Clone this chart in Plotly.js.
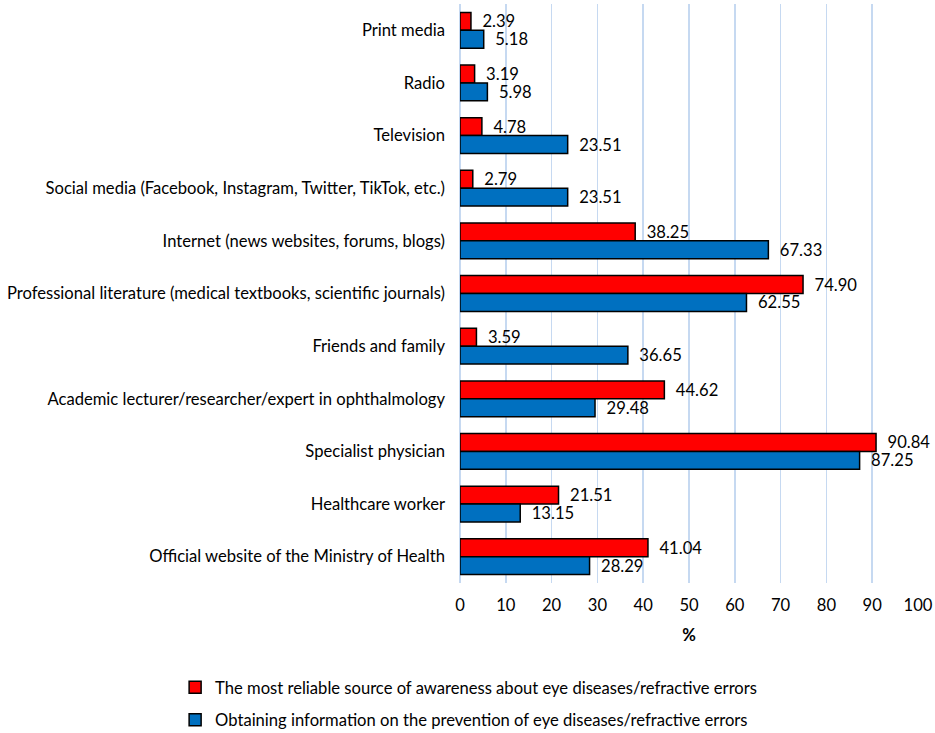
<!DOCTYPE html>
<html><head><meta charset="utf-8">
<script src="https://cdn.plot.ly/plotly-3.0.1.min.js"></script>
<style>body{margin:0;background:#fff}#chart{width:935px;height:733px}</style>
</head><body><div id="chart"></div>
<script>
const categories = [
  "Print media",
  "Radio",
  "Television",
  "Social media (Facebook, Instagram, Twitter, TikTok, etc.)",
  "Internet (news websites, forums, blogs)",
  "Professional literature (medical textbooks, scientific journals)",
  "Friends and family",
  "Academic lecturer/researcher/expert in ophthalmology",
  "Specialist physician",
  "Healthcare worker",
  "Official website of the Ministry of Health"
];
const reliableValues = [2.39, 3.19, 4.78, 2.79, 38.25, 74.90, 3.59, 44.62, 90.84, 21.51, 41.04];
const preventionValues = [5.18, 5.98, 23.51, 23.51, 67.33, 62.55, 36.65, 29.48, 87.25, 13.15, 28.29];
const seriesNames = [
  "The most reliable source of awareness about eye diseases/refractive errors",
  "Obtaining information on the prevention of eye diseases/refractive errors"
];
const xTicks = [0,10,20,30,40,50,60,70,80,90,100];

const font = {family: "Lato, Carlito, Calibri, sans-serif", size: 16.6, color: "#000"};
function mk(vals, name, color, grp) {
  return {
    type: "bar", orientation: "h", y: categories, x: vals, name: name,
    legendgroup: grp,
    marker: {color: color, line: {color: "#000", width: 1.5}},
    text: vals.map(v => "\u00a0\u00a0" + v.toFixed(2)), textposition: "outside",
    constraintext: "none",
    textfont: font, cliponaxis: false, hoverinfo: "x+y"
  };
}
const data = [
  mk(reliableValues, seriesNames[0], "#ff0000", "a"),
  mk(preventionValues, seriesNames[1], "#0070c0", "b")
];
const layout = {
  width: 935, height: 733,
  margin: {l: 460, r: 17, t: 4, b: 150, autoexpand: false},
  font: font,
  paper_bgcolor: "#fff", plot_bgcolor: "#fff",
  barmode: "group", bargap: 0.32, bargroupgap: 0,
  showlegend: true,
  legend: {x: -0.622, xanchor: "left", y: -0.15, yanchor: "top",
           font: font, traceorder: "grouped", tracegroupgap: 8, itemwidth: 30},
  xaxis: {range: [0, 100], tickvals: xTicks, ticktext: xTicks.map(String),
          showgrid: true, gridcolor: "#c6d9f1", gridwidth: 1.5,
          zeroline: true, zerolinecolor: "#c6d9f1", zerolinewidth: 1.5,
          showline: false, ticks: "", ticklabelstandoff: 10, tickfont: font,
          title: {text: "%", font: {family: font.family, size: 16.6, color: "#000", weight: "bold"}, standoff: 15},
          fixedrange: true},
  yaxis: {autorange: "reversed", type: "category", ticks: "", showgrid: false,
          zeroline: false, showline: false, tickfont: font, ticklabelstandoff: 14,
          fixedrange: true}
};
Plotly.newPlot("chart", data, layout, {displayModeBar: false, staticPlot: true});
</script></body></html>
